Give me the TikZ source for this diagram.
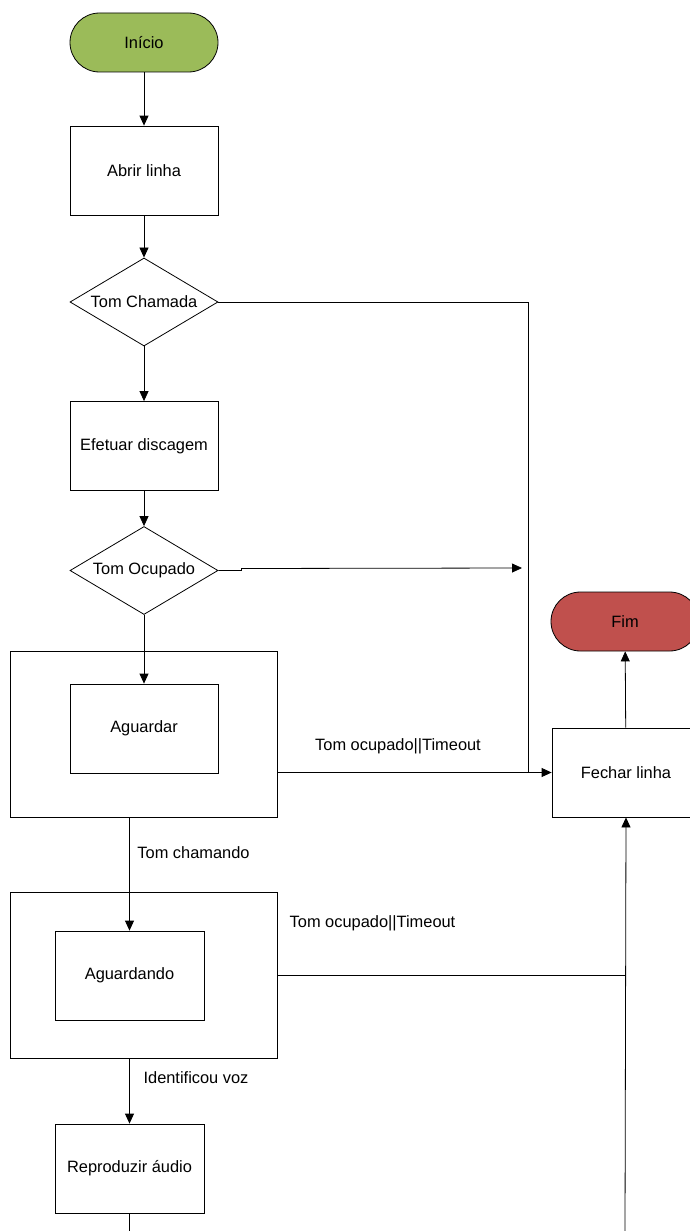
\documentclass[tikz,border=0pt]{standalone}
\usepackage{fontspec}
\setmainfont{Liberation Sans}
\usetikzlibrary{arrows.meta,shapes.geometric}
\definecolor{verde}{HTML}{9BBB59}
\definecolor{vermelho}{HTML}{C0504D}
\begin{document}
\begin{tikzpicture}[x=1pt,y=-1pt,line width=0.8pt,
		font=\fontsize{16.4}{19}\selectfont,
		seta/.style={-{Triangle[length=10pt,width=9pt]}},
		terminal/.style={draw,rounded corners=29.5pt,minimum width=148pt,minimum height=59pt,inner sep=0},
		caixa/.style={draw,minimum width=148pt,minimum height=89pt,inner sep=0},
		moldura/.style={draw,minimum width=267pt,minimum height=166pt,inner sep=0},
		decisao/.style={draw,diamond,aspect=1.68,minimum width=148pt,minimum height=88pt,inner sep=0}]
		\useasboundingbox (0,0) rectangle (689,1231);
		% coluna principal
		\node[terminal,fill=verde] (inicio) at (144,42.5) {Início};
		\node[caixa] (abrir) at (144,170.5) {Abrir linha};
		\node[decisao] (chamada) at (144,302) {Tom Chamada};
		\node[caixa] (discagem) at (144,446) {Efetuar discagem};
		\node[decisao] (ocupado) at (144,570.5) {Tom Ocupado};
		\node[moldura] (moldura1) at (143.5,734) {};
		\node[caixa] (aguardar) at (144,728.5) {Aguardar};
		\node[moldura] (moldura2) at (143.5,975) {};
		\node[caixa,minimum width=149pt] (aguardando) at (129.5,975.5) {Aguardando};
		\node[caixa,minimum width=149pt] (reproduzir) at (129.5,1168.5) {Reproduzir áudio};
		% lado direito
		\node[terminal,fill=vermelho] (fim) at (625,621.5) {Fim};
		\node[caixa] (fechar) at (626,772.5) {Fechar linha};
		\coordinate (juncao1) at (528,772.5);
		\coordinate (ocupadoFim) at (522,568);
		\coordinate (juncao2) at (625,975);
		\coordinate (baixo1) at (129.5,1231);
		\coordinate (baixo2) at (625,1231);
		% rotulos
		\node (r1) at (398,746) {Tom ocupado||Timeout};
		\node (r2) at (193.5,853) {Tom chamando};
		\node (r3) at (372.5,923) {Tom ocupado||Timeout};
		\node (r4) at (196,1078) {Identificou voz};
		% ligacoes
		\draw[seta] (inicio)--(abrir);
		\draw[seta] (abrir)--(chamada);
		\draw[seta] (chamada)--(discagem);
		\draw[seta] (discagem)--(ocupado);
		\draw[seta] (ocupado)--(aguardar);
		\draw (chamada.east) -| (juncao1);
		\draw[seta] (ocupado.east) -- ++(23,0) -- ++(0,-2) -- (ocupadoFim);
		\draw[seta] (moldura1.east |- fechar.west) -- (fechar.west);
		\draw[seta] (fechar)--(fim);
		\draw[seta] (moldura1.south -| aguardando.north) -- (aguardando.north);
		\draw (moldura2.east |- juncao2) -- (juncao2);
		\draw[seta] (baixo2) -- (fechar.south);
		\draw[seta] (moldura2.south -| reproduzir.north) -- (reproduzir.north);
		\draw (reproduzir.south) -- (baixo1);
	\end{tikzpicture}
\end{document}
